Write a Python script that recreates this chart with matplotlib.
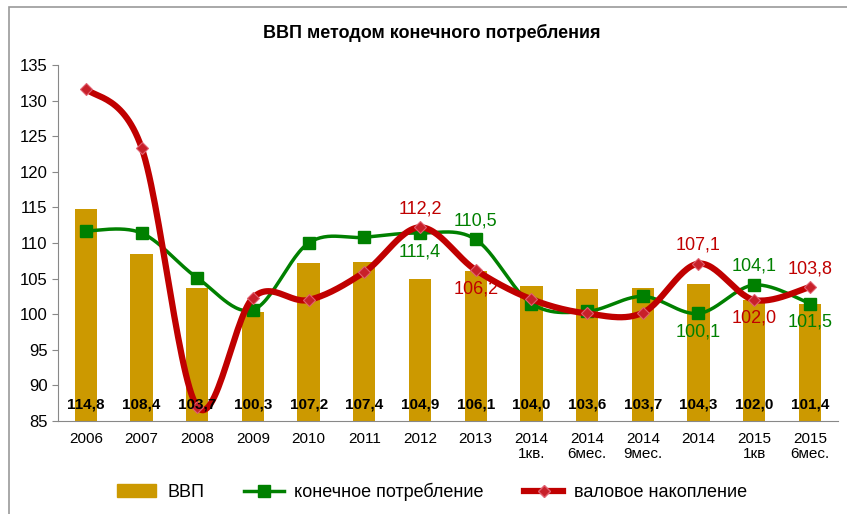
import numpy as np
import matplotlib.pyplot as plt
from matplotlib.lines import Line2D
from matplotlib.patches import Patch, Rectangle

plt.rcParams['font.family'] = ['Liberation Sans', 'DejaVu Sans']

# данные
categories = ['2006', '2007', '2008', '2009', '2010', '2011', '2012', '2013',
              '2014\n1кв.', '2014\n6мес.', '2014\n9мес.', '2014', '2015\n1кв', '2015\n6мес.']
gdp = [114.8, 108.4, 103.7, 100.3, 107.2, 107.4, 104.9, 106.1,
       104.0, 103.6, 103.7, 104.3, 102.0, 101.4]
consumption = [111.7, 111.4, 105.1, 100.6, 110.0, 110.8, 111.4, 110.5,
               101.5, 100.4, 102.5, 100.1, 104.1, 101.5]
accumulation = [131.7, 123.4, 87.0, 102.3, 102.0, 105.9, 112.2, 106.2,
                102.1, 100.1, 100.2, 107.1, 102.0, 103.8]

# подписи: индекс -> положение (сверху/снизу)
cons_labels = {6: 'below', 7: 'above', 11: 'below', 12: 'above', 13: 'below'}
acc_labels = {6: 'above', 7: 'below', 11: 'above', 12: 'below', 13: 'above'}

BAR = '#CC9900'
GREEN = '#008000'
RED = '#C00000'


def smooth(x, y, n=30):
    # сглаживание как в Excel (Catmull-Rom)
    p = np.column_stack([x, y]).astype(float)
    p = np.vstack([p[0], p, p[-1]])
    out = []
    for i in range(1, len(p) - 2):
        p0, p1, p2, p3 = p[i - 1], p[i], p[i + 1], p[i + 2]
        c1 = p1 + (p2 - p0) / 6
        c2 = p2 - (p3 - p1) / 6
        t = np.linspace(0, 1, n)[:, None]
        seg = ((1 - t) ** 3) * p1 + 3 * ((1 - t) ** 2) * t * c1 + 3 * (1 - t) * t ** 2 * c2 + t ** 3 * p2
        out.append(seg if i == 1 else seg[1:])
    seg = np.vstack(out)
    return seg[:, 0], seg[:, 1]


fig = plt.figure(figsize=(8.47, 5.14), dpi=100)
ax = fig.add_axes([0.0685, 0.181, 0.9205, 0.6925])

x = np.arange(len(categories))
ax.bar(x, np.array(gdp) - 85, bottom=85, width=0.4, color=BAR, zorder=1)
for xi, v in zip(x, gdp):
    ax.text(xi, 87.3, f'{v:.1f}'.replace('.', ','), ha='center', va='center',
            fontsize=11, fontweight='bold', color='black', zorder=5)

sx, sy = smooth(x, consumption)
ax.plot(sx, sy, color=GREEN, lw=2.5, zorder=2)
ax.plot(x, consumption, ls='none', marker='s', ms=8, color=GREEN, zorder=2)

sx, sy = smooth(x, accumulation)
ax.plot(sx, sy, color=RED, lw=4.5, zorder=3, solid_capstyle='round')
ax.plot(x, accumulation, ls='none', marker='D', ms=6, mfc='#C8202A', mec='#E06070', mew=0.8, zorder=4)

for i, pos in cons_labels.items():
    dy = 2.6 if pos == 'above' else -2.6
    ax.text(x[i], consumption[i] + dy, f'{consumption[i]:.1f}'.replace('.', ','),
            ha='center', va='center', fontsize=13, color=GREEN, zorder=6)
for i, pos in acc_labels.items():
    dy = 2.6 if pos == 'above' else -2.6
    ax.text(x[i], accumulation[i] + dy, f'{accumulation[i]:.1f}'.replace('.', ','),
            ha='center', va='center', fontsize=13, color=RED, zorder=6)

ax.set_xlim(-0.5, len(categories) - 0.5)
ax.set_ylim(85, 135)
ax.set_yticks(np.arange(85, 136, 5))
ax.set_xticks(x)
ax.set_xticklabels(categories, fontsize=11, linespacing=1.05)
ax.tick_params(axis='x', length=0, pad=8)
ax.tick_params(axis='y', labelsize=12, length=4, color='#888888')
for s in ['top', 'right']:
    ax.spines[s].set_visible(False)
for s in ['left', 'bottom']:
    ax.spines[s].set_color('#888888')

fig.text(0.51, 0.936, 'ВВП методом конечного потребления', ha='center', va='center',
         fontsize=13, fontweight='bold')

handles = [Patch(color=BAR, label='ВВП'),
           Line2D([], [], color=GREEN, lw=2.5, marker='s', ms=8, label='конечное потребление'),
           Line2D([], [], color=RED, lw=4.5, marker='D', ms=6, mfc='#C8202A', mec='#E06070',
                  label='валовое накопление')]
fig.legend(handles=handles, loc='center', bbox_to_anchor=(0.51, 0.043), ncol=3,
           frameon=False, fontsize=13, handlelength=2.2, handletextpad=0.6, columnspacing=2.2)

fig.add_artist(Rectangle((0.0106, -0.05), 1.1, 1.036, transform=fig.transFigure,
                         fill=False, ec='#999999', lw=1.2))

fig.savefig('out.png', dpi=100)
